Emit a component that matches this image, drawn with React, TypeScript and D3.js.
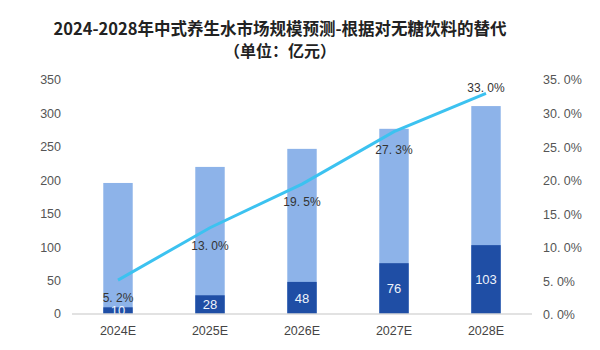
import React from 'react';
import * as d3 from 'd3';

// 数据
const years = ['2024E', '2025E', '2026E', '2027E', '2028E'];
const totalMarket = [196, 220, 247, 277, 311];
const healthWater = [10, 28, 48, 76, 103];
const shareRate = [5.2, 13.0, 19.5, 27.3, 33.0];
const leftTicks = [0, 50, 100, 150, 200, 250, 300, 350];
const rightTicks = [0, 5, 10, 15, 20, 25, 30, 35];

const width = 600;
const height = 350;
const marge = { top: 80, bottom: 36, left: 72, right: 68 };

const fmtPct = (v: number) => v.toFixed(1).replace('.', '. ') + '%';

export default function App() {
  const x = d3.scaleBand<string>()
    .domain(years)
    .range([marge.left, width - marge.right])
    .paddingInner(0.68)
    .paddingOuter(0.34);

  const yL = d3.scaleLinear().domain([0, 350]).range([height - marge.bottom, marge.top]);
  const yR = d3.scaleLinear().domain([0, 35]).range([height - marge.bottom + 1, marge.top]);

  const cx = (d: string) => (x(d) as number) + x.bandwidth() / 2;

  const line = d3.line<number>()
    .x((d, i) => cx(years[i]))
    .y(d => yR(d));

  const base = yL(0);

  return (
    <svg width={width} height={height} style={{ position: 'absolute', left: 0, top: 0, background: '#fff' }}>
      {/* 标题 */}
      <g fontFamily="'Noto Sans CJK SC', sans-serif" fontWeight="bold" fill="#222" textAnchor="middle">
        <text x={280} y={35} fontSize={16.5}>2024-2028年中式养生水市场规模预测-根据对无糖饮料的替代</text>
        <text x={280} y={57} fontSize={16}>（单位：亿元）</text>
      </g>

      {/* 左轴 */}
      <g fontFamily="'Liberation Sans', Arial, sans-serif" fontSize={12.5} fill="#555" textAnchor="end">
        {leftTicks.map(t => (
          <text key={t} x={61} y={yL(t)} dy="0.35em">{t}</text>
        ))}
      </g>

      {/* 右轴 */}
      <g fontFamily="'Liberation Sans', Arial, sans-serif" fontSize={12.5} fill="#555" textAnchor="start">
        {rightTicks.map(t => (
          <text key={t} x={543} y={yR(t)} dy="0.35em">{fmtPct(t)}</text>
        ))}
      </g>

      {/* 柱子 */}
      {years.map((d, i) => (
        <g key={d}>
          <rect x={x(d)} y={yL(totalMarket[i])} width={x.bandwidth()} height={base - yL(totalMarket[i])} fill="#8db3e9" />
          <rect x={x(d)} y={yL(healthWater[i])} width={x.bandwidth()} height={base - yL(healthWater[i])} fill="#1f4ea5" />
          <text x={cx(d)} y={(yL(healthWater[i]) + base) / 2} dy="0.36em" textAnchor="middle"
            fontFamily="'Liberation Sans', Arial, sans-serif" fontSize={13} fill="#eef3fb">{healthWater[i]}</text>
        </g>
      ))}

      {/* 坐标轴线 */}
      <line x1={marge.left} x2={width - marge.right} y1={base} y2={base} stroke="#d9d9d9" strokeWidth={1.5} />

      {/* 折线 */}
      <path d={line(shareRate) || ''} fill="none" stroke="#3cc2f0" strokeWidth={3} />
      <g fontFamily="'Liberation Sans', Arial, sans-serif" fontSize={12} fill="#333" textAnchor="middle">
        {shareRate.map((v, i) => {
          const last = i === shareRate.length - 1;
          return (
            <text key={i} x={cx(years[i])} y={yR(v) + (last ? -6 : 18)} dy="0.35em">{fmtPct(v)}</text>
          );
        })}
      </g>

      {/* x轴标签 */}
      <g fontFamily="'Liberation Sans', Arial, sans-serif" fontSize={12.5} fill="#444" textAnchor="middle">
        {years.map(d => (
          <text key={d} x={cx(d)} y={331} dy="0.35em">{d}</text>
        ))}
      </g>
    </svg>
  );
}
